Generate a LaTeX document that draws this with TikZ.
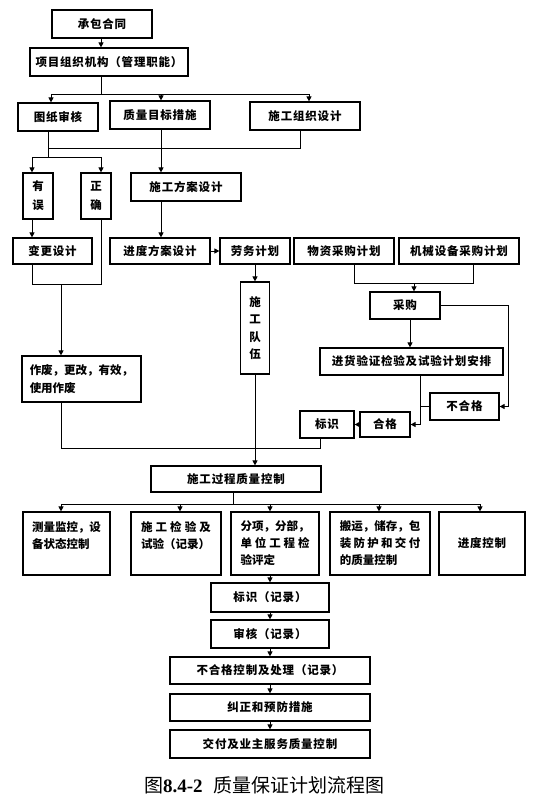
\documentclass[tikz,border=0pt]{standalone}
\usepackage{fontspec}
\setmainfont{Noto Sans CJK SC}
\newfontfamily\cjk{Noto Sans CJK SC}
\newfontfamily\cjkw{Noto Sans CJK SC}[LetterSpace=7]
\newfontfamily\capserif{Liberation Serif}
\usetikzlibrary{arrows.meta}
\begin{document}
\begin{tikzpicture}[x=1pt,y=-1pt,
  box/.style={draw,line width=1.2pt,inner sep=0pt,font=\cjkw\bfseries\fontsize{11.5}{17}\selectfont},
  multibox/.style={box,font=\cjk\bfseries\fontsize{11.5}{17}\selectfont},
  con/.style={line width=0.9pt},
  arr/.style={con,-{Triangle[length=5pt,width=5pt]}},
]
\useasboundingbox (0,0) rectangle (536,804);
% ---- nodes ----
\node[box,minimum width=100pt,minimum height=28pt] (cbht) at (102,24) {承包合同};
\node[box,minimum width=158pt,minimum height=28pt] (xmzz) at (109,62) {项目组织机构（管理职能）};
\node[box,minimum width=80pt,minimum height=28pt] (tzsh) at (58,117) {图纸审核};
\node[box,minimum width=100pt,minimum height=28pt] (zlmb) at (160,115) {质量目标措施};
\node[box,minimum width=110pt,minimum height=28pt] (sgzz) at (305,116) {施工组织设计};
\node[multibox,minimum width=30pt,minimum height=46pt,align=center,font=\cjk\bfseries\fontsize{11.5}{19}\selectfont] (yw) at (38,196) {有\\误};
\node[multibox,minimum width=30pt,minimum height=46pt,align=center,font=\cjk\bfseries\fontsize{11.5}{19}\selectfont] (zq) at (96,196) {正\\确};
\node[box,minimum width=110pt,minimum height=28pt] (sgfa) at (186,187) {施工方案设计};
\node[box,minimum width=79pt,minimum height=26pt] (bgsj) at (52.5,251) {变更设计};
\node[box,minimum width=100pt,minimum height=26pt] (jdfa) at (160,251) {进度方案设计};
\node[box,minimum width=70pt,minimum height=26pt] (lwjh) at (255,251) {劳务计划};
\node[box,minimum width=100pt,minimum height=26pt] (wzcg) at (344,251) {物资采购计划};
\node[box,minimum width=120pt,minimum height=26pt] (jxsb) at (459,251) {机械设备采购计划};
\node[multibox,minimum width=29pt,minimum height=92pt,align=center,font=\cjk\bfseries\fontsize{11.5}{17.5}\selectfont] (sgdw) at (255,328) {施\\工\\队\\伍};
\node[box,minimum width=70pt,minimum height=27pt] (cg) at (405,305.5) {采购};
\node[box,minimum width=183pt,minimum height=27pt] (jhyz) at (411.5,361.5) {进货验证检验及试验计划安排};
\node[box,minimum width=69pt,minimum height=27pt] (bhg) at (464.5,406.5) {不合格};
\node[box,minimum width=50pt,minimum height=25pt] (hg) at (385,424.5) {合格};
\node[box,minimum width=54pt,minimum height=27pt] (bs) at (327,424.5) {标识};
\node[multibox,minimum width=119pt,minimum height=46pt,align=left,font=\cjk\bfseries\fontsize{11.5}{18}\selectfont] (zf) at (81.5,379) {作废，更改，有效，\\使用作废};
\node[box,minimum width=170pt,minimum height=26pt] (sggc) at (236,479) {施工过程质量控制};
\node[multibox,minimum width=87pt,minimum height=63pt,align=left] (b1) at (66.5,543.5) {测量监控，设\\备状态控制\\\mbox{}};
\node[multibox,minimum width=90pt,minimum height=63pt,align=left] (b2) at (176,543.5) {\hbox to 70pt{施\hfil 工\hfil 检\hfil 验\hfil 及}\\试验（记录）\\\mbox{}};
\node[multibox,minimum width=88pt,minimum height=63pt,align=left] (b3) at (275,543.5) {分项，分部，\\\hbox to 69pt{单\hfil 位\hfil 工\hfil 程\hfil 检}\\验评定};
\node[multibox,minimum width=100pt,minimum height=63pt,align=left] (b4) at (380,543.5) {搬运，储存，包\\\hbox to 80.5pt{装\hfil 防\hfil 护\hfil 和\hfil 交\hfil 付}\\的质量控制};
\node[box,minimum width=86pt,minimum height=63pt] (b5) at (482,543.5) {进度控制};
\node[box,minimum width=118pt,minimum height=29pt] (bsjl) at (270,597.5) {标识（记录）};
\node[box,minimum width=118pt,minimum height=28pt] (shjl) at (270,634) {审核（记录）};
\node[box,minimum width=200pt,minimum height=27pt] (bhgkz) at (270,670.5) {不合格控制及处理（记录）};
\node[box,minimum width=200pt,minimum height=27pt] (jzyf) at (270,707.5) {纠正和预防措施};
\node[box,minimum width=200pt,minimum height=28pt] (jf) at (270,744) {交付及业主服务质量控制};
\node[font=\cjk\fontsize{19}{20}\selectfont] (cap) at (264.5,785) {图{\capserif\bfseries 8.4-2}\hspace{0.6em}质量保证计划流程图};
% ---- junctions ----
\coordinate (j1) at (101,94);
\coordinate (j1a) at (51,94);
\coordinate (j1b) at (161,94);
\coordinate (j1c) at (309,94);
\coordinate (j2a) at (48,148);
\coordinate (j2b) at (300,148);
\coordinate (j3) at (48,157);
\coordinate (j3a) at (32,157);
\coordinate (j3b) at (101,157);
\coordinate (j4a) at (32,284);
\coordinate (j4b) at (101,284);
\coordinate (j4) at (61,284);
\coordinate (j5a) at (354,283);
\coordinate (j5b) at (473,283);
\coordinate (j5) at (414,283);
\coordinate (j6) at (508,307);
\coordinate (j7) at (410,330);
\coordinate (j8) at (420,400);
\coordinate (j9) at (320,448);
\coordinate (j9a) at (61,448);
\coordinate (j10) at (233,504);
\coordinate (j10a) at (61,504);
\coordinate (j10b) at (180,504);
\coordinate (j10c) at (270,504);
\coordinate (j10d) at (379,504);
\coordinate (j10e) at (480,504);
% ---- connectors ----
\draw[arr] (cbht.south -| j1) -- (xmzz.north -| j1);
\draw[con] (xmzz.south -| j1) -- (j1);
\draw[con] (j1a) -- (j1c);
\draw[arr] (j1a) -- (tzsh.north -| j1a);
\draw[arr] (j1b) -- (zlmb.north -| j1b);
\draw[arr] (j1c) -- (sgzz.north -| j1c);
\draw[con] (tzsh.south -| j2a) -- (j2a) -- (j2b) -- (sgzz.south -| j2b);
\draw[con] (j2a) -- (j3);
\draw[con] (j3a) -- (j3b);
\draw[arr] (j3a) -- (yw.north -| j3a);
\draw[arr] (j3b) -- (zq.north -| j3b);
\draw[arr] (zlmb.south -| j1b) -- (sgfa.north -| j1b);
\draw[arr] (sgfa.south -| j1b) -- (jdfa.north -| j1b);
\draw[arr] (yw.south -| j3a) -- (bgsj.north -| j3a);
\draw[con] (bgsj.south -| j4a) -- (j4a) -- (j4b) -- (zq.south -| j4b);
\draw[arr] (j4) -- (zf.north -| j4);
\draw[arr] (jdfa.east) -- (lwjh.west);
\draw[arr] (lwjh.south) -- (sgdw.north);
\draw[con] (wzcg.south -| j5a) -- (j5a) -- (j5b) -- (jxsb.south -| j5b);
\draw[arr] (j5) -- (cg.north -| j5);
\draw[arr] (cg.east) -- (cg.east -| j6) -- (j6 |- bhg.east) -- (bhg.east);
\draw[arr] (cg.south -| j7) -- (jhyz.north -| j7);
\draw[arr] (jhyz.south -| j8) -- (j8 |- hg.east) -- (hg.east);
\draw[con] (bhg.west) -- (bhg.west -| j8);
\draw[arr] (hg.west) -- (bs.east);
\draw[con] (bs.south -| j9) -- (j9) -- (j9a) -- (zf.south -| j9a);
\draw[arr] (sgdw.south) -- (sggc.north -| sgdw.south);
\draw[con] (sggc.south -| j10) -- (j10);
\draw[con] (j10a) -- (j10e);
\draw[arr] (j10a) -- (b1.north -| j10a);
\draw[arr] (j10b) -- (b2.north -| j10b);
\draw[arr] (j10c) -- (b3.north -| j10c);
\draw[arr] (j10d) -- (b4.north -| j10d);
\draw[arr] (j10e) -- (b5.north -| j10e);
\draw[arr] (b3.south -| bsjl.north) -- (bsjl.north);
\draw[arr] (bsjl.south) -- (shjl.north);
\draw[arr] (shjl.south) -- (bhgkz.north);
\draw[arr] (bhgkz.south) -- (jzyf.north);
\draw[arr] (jzyf.south) -- (jf.north);
\end{tikzpicture}
\end{document}
